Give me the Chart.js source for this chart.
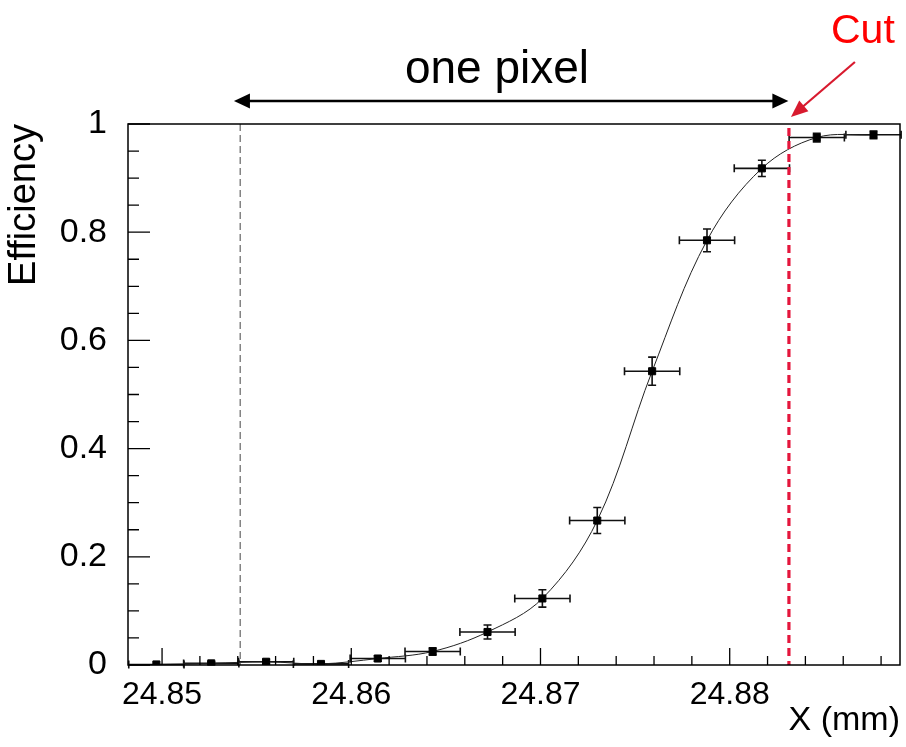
<!DOCTYPE html>
<html><head><meta charset="utf-8">
<script src="https://cdn.jsdelivr.net/npm/chart.js@4.4.0/dist/chart.umd.min.js"></script>
<style>html,body{margin:0;padding:0;background:#fff;overflow:hidden}#wrap{width:906px;height:747px;position:relative}</style>
</head><body><div id="wrap"><canvas id="c" width="906" height="747"></canvas></div>
<script>
// ---- data ----
const xPositions = [24.8497, 24.8526, 24.8555, 24.8584, 24.8614, 24.8643, 24.8672, 24.8701, 24.8730, 24.8759, 24.8788, 24.8817, 24.8846, 24.8876];
const efficiency = [0.001, 0.003, 0.006, 0.002, 0.012, 0.025, 0.061, 0.123, 0.267, 0.543, 0.785, 0.918, 0.975, 0.980];
const effErrors  = [0.002, 0.003, 0.004, 0.003, 0.005, 0.007, 0.013, 0.016, 0.024, 0.026, 0.021, 0.015, 0.008, 0.007];
const xErrors    = [0.00146, 0.00146, 0.00146, 0.00146, 0.00146, 0.00146, 0.00146, 0.00146, 0.00146, 0.00146, 0.00146, 0.00146, 0.00146, 0.00146];
const xTickValues = [24.85, 24.86, 24.87, 24.88];
const xTickLabels = ['24.85', '24.86', '24.87', '24.88'];
const yTickValues = [0, 0.2, 0.4, 0.6, 0.8, 1];
const yTickLabels = ['0', '0.2', '0.4', '0.6', '0.8', '1'];
const pixelEdgeX = 24.85413;
const cutX = 24.88313;
const arrowFromX = 24.8538;
const arrowToX = 24.8831;
const xRange = [24.8482, 24.8890];
const yRange = [0, 1];

const FONT = '"Liberation Sans", Arial, Helvetica, sans-serif';

function arrowHead(ctx, x1, y1, x2, y2, len, half) {
  const ang = Math.atan2(y2 - y1, x2 - x1);
  ctx.beginPath();
  ctx.moveTo(x2, y2);
  ctx.lineTo(x2 - len * Math.cos(ang) + half * Math.sin(ang), y2 - len * Math.sin(ang) - half * Math.cos(ang));
  ctx.lineTo(x2 - len * Math.cos(ang) - half * Math.sin(ang), y2 - len * Math.sin(ang) + half * Math.cos(ang));
  ctx.closePath();
  ctx.fill();
}

const decor = {
  id: 'decor',
  beforeDatasetsDraw(chart) {
    const {ctx, scales: {x, y}} = chart;
    ctx.save();
    ctx.strokeStyle = '#111';
    ctx.lineWidth = 1.6;
    for (let i = 0; i < xPositions.length; i++) {
      const px = x.getPixelForValue(xPositions[i]);
      const py = y.getPixelForValue(efficiency[i]);
      const xl = x.getPixelForValue(xPositions[i] - xErrors[i]);
      const xr = x.getPixelForValue(xPositions[i] + xErrors[i]);
      const yt = y.getPixelForValue(efficiency[i] + effErrors[i]);
      const yb = y.getPixelForValue(Math.max(0, efficiency[i] - effErrors[i]));
      ctx.beginPath();
      ctx.moveTo(xl, py); ctx.lineTo(xr, py);
      ctx.moveTo(xl, py - 4); ctx.lineTo(xl, py + 4);
      ctx.moveTo(xr, py - 4); ctx.lineTo(xr, py + 4);
      if (yb - yt > 3) {
        ctx.moveTo(px, yt); ctx.lineTo(px, yb);
        ctx.moveTo(px - 4, yt); ctx.lineTo(px + 4, yt);
        ctx.moveTo(px - 4, yb); ctx.lineTo(px + 4, yb);
      }
      ctx.stroke();
    }
    ctx.restore();
  },
  afterDatasetsDraw(chart) {
    const {ctx, chartArea: a, scales: {x, y}} = chart;
    ctx.save();
    // gray dashed line (pixel edge)
    const gx = x.getPixelForValue(pixelEdgeX);
    ctx.strokeStyle = '#707070';
    ctx.lineWidth = 1.3;
    ctx.setLineDash([7, 4]);
    ctx.beginPath(); ctx.moveTo(gx, a.top); ctx.lineTo(gx, a.bottom); ctx.stroke();
    // red dashed cut line
    const rx = x.getPixelForValue(cutX);
    ctx.strokeStyle = '#e4163c';
    ctx.lineWidth = 3.2;
    ctx.setLineDash([8, 5]);
    ctx.beginPath(); ctx.moveTo(rx, a.top + 4); ctx.lineTo(rx, a.bottom); ctx.stroke();
    ctx.setLineDash([]);

    // frame
    ctx.strokeStyle = '#000';
    ctx.lineWidth = 1.5;
    ctx.strokeRect(a.left, a.top, a.right - a.left, a.bottom - a.top);

    // inward ticks
    ctx.lineWidth = 1.3;
    ctx.beginPath();
    for (let i = 0; i <= 20; i++) {
      const v = 24.848 + i * 0.002;
      if (v < x.min || v > x.max) continue;
      const major = xTickValues.some(t => Math.abs(t - v) < 1e-7);
      const px = x.getPixelForValue(v);
      ctx.moveTo(px, a.bottom); ctx.lineTo(px, a.bottom - (major ? 17 : 9));
    }
    for (let i = 0; i <= 20; i++) {
      const v = i * 0.05;
      const major = yTickValues.some(t => Math.abs(t - v) < 1e-7);
      const py = y.getPixelForValue(v);
      ctx.moveTo(a.left, py); ctx.lineTo(a.left + (major ? 22 : 11), py);
    }
    ctx.stroke();

    // "one pixel" double arrow
    const ax1 = x.getPixelForValue(arrowFromX), ax2 = x.getPixelForValue(arrowToX);
    const ay = a.top - 23;
    ctx.strokeStyle = '#000'; ctx.fillStyle = '#000';
    ctx.lineWidth = 2.4;
    ctx.beginPath(); ctx.moveTo(ax1 + 10, ay); ctx.lineTo(ax2 - 10, ay); ctx.stroke();
    arrowHead(ctx, ax2 - 20, ay, ax2, ay, 16, 7.5);
    arrowHead(ctx, ax1 + 20, ay, ax1, ay, 16, 7.5);
    ctx.font = '46px ' + FONT;
    ctx.textAlign = 'center'; ctx.textBaseline = 'alphabetic';
    ctx.fillText('one pixel', 497, 83);

    // Cut label and arrow
    ctx.fillStyle = '#ff0000';
    ctx.font = '41px ' + FONT;
    ctx.textAlign = 'left';
    ctx.fillText('Cut', 831, 43);
    const tipX = rx + 2, tipY = a.top - 7;
    ctx.strokeStyle = '#d81a2e'; ctx.fillStyle = '#d81a2e';
    ctx.lineWidth = 2.2;
    ctx.beginPath(); ctx.moveTo(tipX + 64, tipY - 55); ctx.lineTo(tipX + 8, tipY - 7); ctx.stroke();
    arrowHead(ctx, tipX + 64, tipY - 55, tipX, tipY, 17, 7);
    ctx.restore();
  }
};

new Chart(document.getElementById('c'), {
  type: 'line',
  data: {
    datasets: [{
      data: xPositions.map((v, i) => ({x: v, y: efficiency[i]})),
      borderColor: '#222',
      borderWidth: 1,
      tension: 0.35,
      pointStyle: 'rect',
      pointRadius: 5,
      pointBorderWidth: 1,
      pointBackgroundColor: '#000',
      pointBorderColor: '#000',
      fill: false
    }]
  },
  options: {
    responsive: false,
    animation: false,
    devicePixelRatio: 1,
    layout: {padding: {left: 0, right: 3, top: 124, bottom: 0}},
    plugins: {legend: {display: false}, tooltip: {enabled: false}},
    scales: {
      x: {
        type: 'linear', min: xRange[0], max: xRange[1],
        grid: {display: false}, border: {display: false},
        afterBuildTicks: s => { s.ticks = xTickValues.map(v => ({value: v})); },
        afterFit: s => { s.height = 82; },
        ticks: {
          color: '#000', font: {family: FONT, size: 32}, padding: 3, maxRotation: 0,
          callback: (v) => { const i = xTickValues.findIndex(t => Math.abs(t - v) < 1e-7); return i >= 0 ? xTickLabels[i] : ''; }
        },
        title: {display: true, text: 'X (mm)', align: 'end', color: '#000', font: {family: FONT, size: 34}, padding: {top: 0, bottom: 6}}
      },
      y: {
        type: 'linear', min: yRange[0], max: yRange[1],
        grid: {display: false}, border: {display: false},
        afterBuildTicks: s => { s.ticks = yTickValues.map(v => ({value: v})); },
        afterFit: s => { s.width = 128; },
        ticks: {
          color: '#000', font: {family: FONT, size: 34}, padding: 13,
          callback: (v) => { const i = yTickValues.findIndex(t => Math.abs(t - v) < 1e-7); return i >= 0 ? yTickLabels[i] : ''; }
        },
        title: {display: true, text: 'Efficiency', align: 'end', color: '#000', font: {family: FONT, size: 38}, padding: {top: 2, bottom: 0}}
      }
    }
  },
  plugins: [decor]
});
</script></body></html>
